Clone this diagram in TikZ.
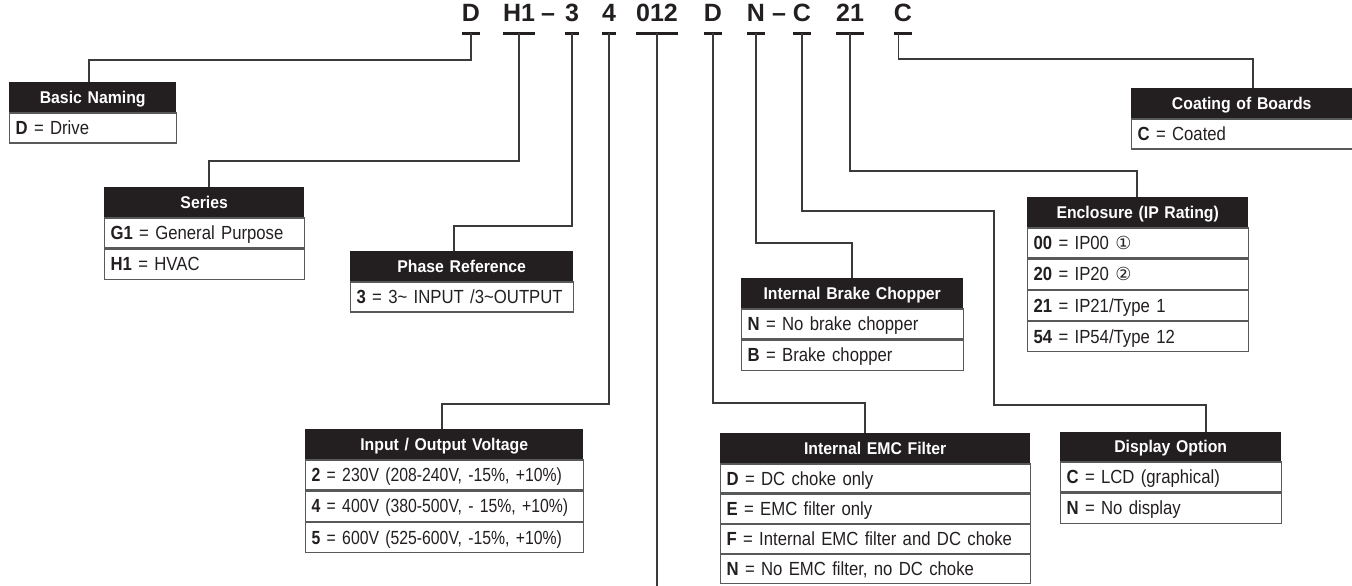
\documentclass[tikz,border=0pt]{standalone}
\usepackage{fontspec}
\setmainfont{Liberation Sans}[FakeStretch=0.93]
\newfontfamily\rowfam{Liberation Sans}[FakeStretch=0.88, WordSpace=0.9]
\newfontfamily\rowfamn{Liberation Sans}[FakeStretch=0.83, WordSpace=0.9]
\newfontfamily\codefam{Liberation Sans}
\newfontfamily\symfam{DejaVu Sans}
\definecolor{hdrc}{HTML}{231F20}
\definecolor{linec}{HTML}{3A3A3A}
\definecolor{boxc}{HTML}{58595B}
\tikzset{
  conn/.style={draw=linec, line width=1.2pt},
  uline/.style={draw=hdrc, line width=2.8pt},
  code/.style={font=\codefam\bfseries\fontsize{25}{25}\selectfont, text=hdrc, inner sep=0pt, text depth=11pt, anchor=base},
  hdr/.style={fill=hdrc, text=white, font=\bfseries\fontsize{17}{17}\selectfont, anchor=north west,
    minimum height=30pt, inner xsep=0pt, inner ysep=0pt, text width=#1, align=center, text height=12pt, text depth=0pt},
  row/.style={draw=boxc, line width=1.2pt, text=hdrc, font=\rowfam\fontsize{19}{19}\selectfont, anchor=north west,
    minimum height=30pt, inner xsep=6pt, inner ysep=0pt, text width=#1, align=left, text height=13.5pt, text depth=0pt},
  rown/.style={row=#1, font=\rowfamn\fontsize{19}{19}\selectfont},
}
\newcommand{\circn}[1]{{\symfam\fontsize{18}{18}\selectfont #1}}
\begin{document}
\begin{tikzpicture}[x=1pt,y=-1pt]
\useasboundingbox (0,0) rectangle (1352,586);

% code letters
\node[code] (c1) at (471,22) {D};
\node[code] (c2) at (519,22) {H1};
\node[code] (d1) at (548,22) {–};
\node[code] (c3) at (572,22) {3};
\node[code] (c4) at (609,22) {4};
\node[code] (c5) at (657,22) {012};
\node[code] (c6) at (713,22) {D};
\node[code] (c7) at (756,22) {N};
\node[code] (d2) at (779,22) {–};
\node[code] (c8) at (802,22) {C};
\node[code] (c9) at (850,22) {21};
\node[code] (c10) at (903,22) {C};
\foreach \n in {c1,c2,c3,c4,c5,c6,c7,c8,c9,c10}
  \draw[uline] (\n.south west) -- (\n.south east);

% Basic Naming
\node[hdr=167pt] (bn) at (9,82) {Basic Naming};
\node[row=155pt] (bn1) at (bn.south west) {\textbf{D} = Drive};

% Series
\node[hdr=200pt] (se) at (104,187) {Series};
\node[row=188pt] (se1) at (se.south west) {\textbf{G1} = General Purpose};
\node[row=188pt] (se2) at (se1.south west) {\textbf{H1} = HVAC};

% Phase Reference
\node[hdr=223pt] (ph) at (350,251) {Phase Reference};
\node[row=211pt] (ph1) at (ph.south west) {\mbox{\textbf{3} = 3\textasciitilde{} INPUT /3\textasciitilde OUTPUT}};

% Input / Output Voltage
\node[hdr=278pt] (vo) at (305,429) {Input / Output Voltage};
\node[rown=266pt] (vo1) at (vo.south west) {\mbox{\textbf{2} = 230V (208-240V, -15\%, +10\%)}};
\node[rown=266pt] (vo2) at (vo1.south west) {\mbox{\textbf{4} = 400V (380-500V, - 15\%, +10\%)}};
\node[rown=266pt] (vo3) at (vo2.south west) {\mbox{\textbf{5} = 600V (525-600V, -15\%, +10\%)}};

% Internal Brake Chopper
\node[hdr=222pt] (br) at (741,278) {Internal Brake Chopper};
\node[row=210pt] (br1) at (br.south west) {\textbf{N} = No brake chopper};
\node[row=210pt] (br2) at (br1.south west) {\textbf{B} = Brake chopper};

% Internal EMC Filter
\node[hdr=310pt] (em) at (720,433) {Internal EMC Filter};
\node[row=298pt, minimum height=29pt] (em1) at (em.south west) {\textbf{D} = DC choke only};
\node[row=298pt, minimum height=29pt] (em2) at (em1.south west) {\textbf{E} = EMC filter only};
\node[row=298pt, minimum height=29pt] (em3) at (em2.south west) {\mbox{\textbf{F} = Internal EMC filter and DC choke}};
\node[row=298pt, minimum height=29pt] (em4) at (em3.south west) {\mbox{\textbf{N} = No EMC filter, no DC choke}};

% Enclosure
\node[hdr=221pt] (en) at (1027,197) {Enclosure (IP Rating)};
\node[row=209pt] (en1) at (en.south west) {\textbf{00} = IP00 \circn{①}};
\node[row=209pt] (en2) at (en1.south west) {\textbf{20} = IP20 \circn{②}};
\node[row=209pt] (en3) at (en2.south west) {\textbf{21} = IP21/Type 1};
\node[row=209pt] (en4) at (en3.south west) {\textbf{54} = IP54/Type 12};

% Display Option
\node[hdr=221pt, minimum height=29pt] (di) at (1060,432) {Display Option};
\node[row=209pt] (di1) at (di.south west) {\textbf{C} = LCD (graphical)};
\node[row=209pt] (di2) at (di1.south west) {\textbf{N} = No display};

% Coating of Boards
\node[hdr=221pt] (co) at (1131,88) {Coating of Boards};
\node[row=209pt] (co1) at (co.south west) {\textbf{C} = Coated};

% connectors
\coordinate (end012) at (657,586);
\draw[conn] (c1.south) |- (89,60) -- (89,60 |- bn.north);
\draw[conn] (c2.south) |- (209,161) -- (209,161 |- se.north);
\draw[conn] (c3.south) |- (454,226) -- (454,226 |- ph.north);
\draw[conn] (c4.south) |- (442,404) -- (442,404 |- vo.north);
\draw[conn] (c5.south) -- (end012);
\draw[conn] (c6.south) |- (865,403) -- (865,403 |- em.north);
\draw[conn] (c7.south) |- (852,243) -- (852,243 |- br.north);
\draw[conn] (c8.south) |- (994,211) |- (1206,405) -- (1206,405 |- di.north);
\draw[conn] (c9.south) |- (1137,171) -- (1137,171 |- en.north);
\draw[conn] ([xshift=5pt]c10.south west) |- (1253,59) -- (1253,59 |- co.north);
\end{tikzpicture}
\end{document}
